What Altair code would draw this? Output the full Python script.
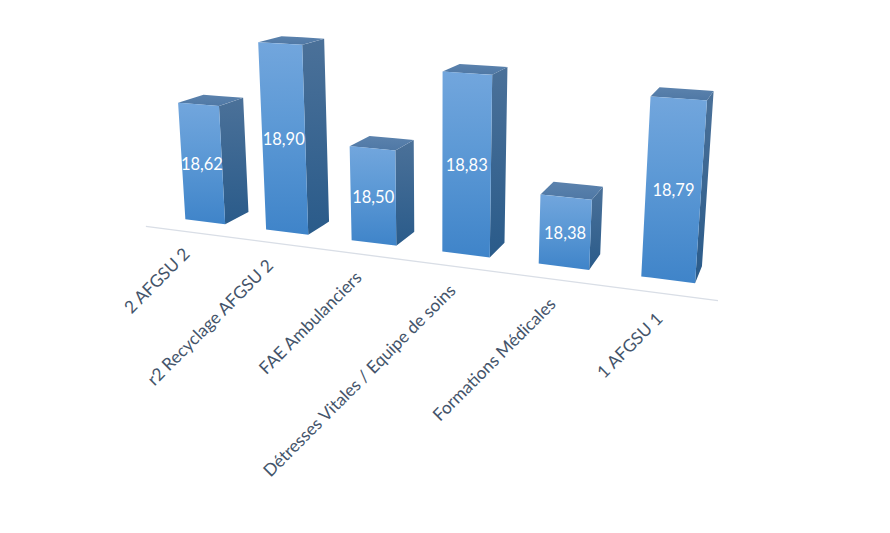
import altair as alt, numpy as np, pandas as pd

categories = ["2 AFGSU 2", "r2 Recyclage AFGSU 2", "FAE Ambulanciers",
              "Détresses Vitales / Equipe de soins", "Formations Médicales", "1 AFGSU 1"]
values = [18.62, 18.90, 18.50, 18.83, 18.38, 18.79]
labels = ["18,62", "18,90", "18,50", "18,83", "18,38", "18,79"]
axis_floor = 18.10

# Perspective camera of the 3-D chart: (slot, value above floor, depth, 1) -> page
camera = np.array([
    [73.88336, -23.77972, 32.57986, 205.1294],
    [3.778828, -231.4564, -4.238892, 221.7696],
    [-0.02796647, -0.05444543, 0.0380518, 1.0],
])


def proj(slot, value, depth):
    h = camera @ np.array([slot, value - axis_floor, depth, 1.0])
    return h[0] / h[2], h[1] / h[2]


def quad(face, pts):
    xs = sorted({round(p[0], 3) for p in pts})
    rows = []
    for x in xs:
        ys = []
        for k in range(len(pts)):
            a, b = pts[k], pts[(k + 1) % len(pts)]
            lo, hi = sorted((a[0], b[0]))
            if lo - 0.002 <= x <= hi + 0.002:
                if abs(a[0] - b[0]) < 1e-6:
                    ys += [a[1], b[1]]
                else:
                    ys.append(a[1] + (b[1] - a[1]) * (x - a[0]) / (b[0] - a[0]))
        rows.append(dict(face=face, x=x, y=min(ys), y2=max(ys)))
    return rows


front, side, top, vals, cats = [], [], [], [], []
for i, (c, v, l) in enumerate(zip(categories, values, labels)):
    a, b = i - .25, i + .25
    F = [proj(a, v, 0), proj(b, v, 0), proj(b, axis_floor, 0), proj(a, axis_floor, 0)]
    front += quad(i, F)
    side += quad(i, [proj(b, v, 0), proj(b, v, 1), proj(b, axis_floor, 1), proj(b, axis_floor, 0)])
    top += quad(i, [proj(a, v, 0), proj(a, v, 1), proj(b, v, 1), proj(b, v, 0)])
    vals.append(dict(x=np.mean([p[0] for p in F]), y=np.mean([p[1] for p in F]), t=l))
    ax, ay = proj(i, axis_floor - 0.09, -.75)
    cats.append(dict(x=ax, y=ay, t=c))

xs = alt.Scale(domain=[8, 878])
ys = alt.Scale(domain=[525, 8])
X = alt.X("x:Q", scale=xs, axis=None)
Y = alt.Y("y:Q", scale=ys, axis=None)
Y2 = alt.Y2("y2:Q")


def grad(c1, c2, mid=None):
    st = [alt.GradientStop(offset=0, color=c1)]
    if mid:
        st.append(alt.GradientStop(offset=.4, color=mid))
    st.append(alt.GradientStop(offset=1, color=c2))
    return alt.Gradient(gradient="linear", x1=0, x2=0, y1=0, y2=1, stops=st)


def layer(rows, fill):
    return alt.Chart(pd.DataFrame(rows)).mark_area(fill=fill, interpolate="linear").encode(
        x=X, y=Y, y2=Y2, detail="face:N")


p0, p1 = proj(-.5, axis_floor, -.75), proj(5.5, axis_floor, -.75)
axis = alt.Chart(pd.DataFrame([dict(x=p0[0], y=p0[1]), dict(x=p1[0], y=p1[1])])).mark_line(
    color="#d9dee6", strokeWidth=1.3).encode(x=X, y=Y)
vt = alt.Chart(pd.DataFrame(vals)).mark_text(
    font="Lato", fontSize=16.5, color="white", align="center", baseline="middle", dy=2
).encode(x=X, y=Y, text="t:N")
ct = alt.Chart(pd.DataFrame(cats)).mark_text(
    font="Lato", fontSize=17.2, color="#44546a", align="right", baseline="middle", angle=315
).encode(x=X, y=Y, text="t:N")

chart = alt.layer(
    axis,
    layer(side, grad("#4b7199", "#2a5b8a")),
    layer(top, grad("#5b82ad", "#4f78a5")),
    layer(front, grad("#72a6dd", "#3f84c9", "#5e9ad6")),
    vt, ct,
).properties(width=870, height=517, padding=0, autosize=alt.AutoSizeParams(type="none"),
             background="white").configure_view(strokeWidth=0)
chart.save("out.html", embed_options={"renderer": "svg", "actions": False})
